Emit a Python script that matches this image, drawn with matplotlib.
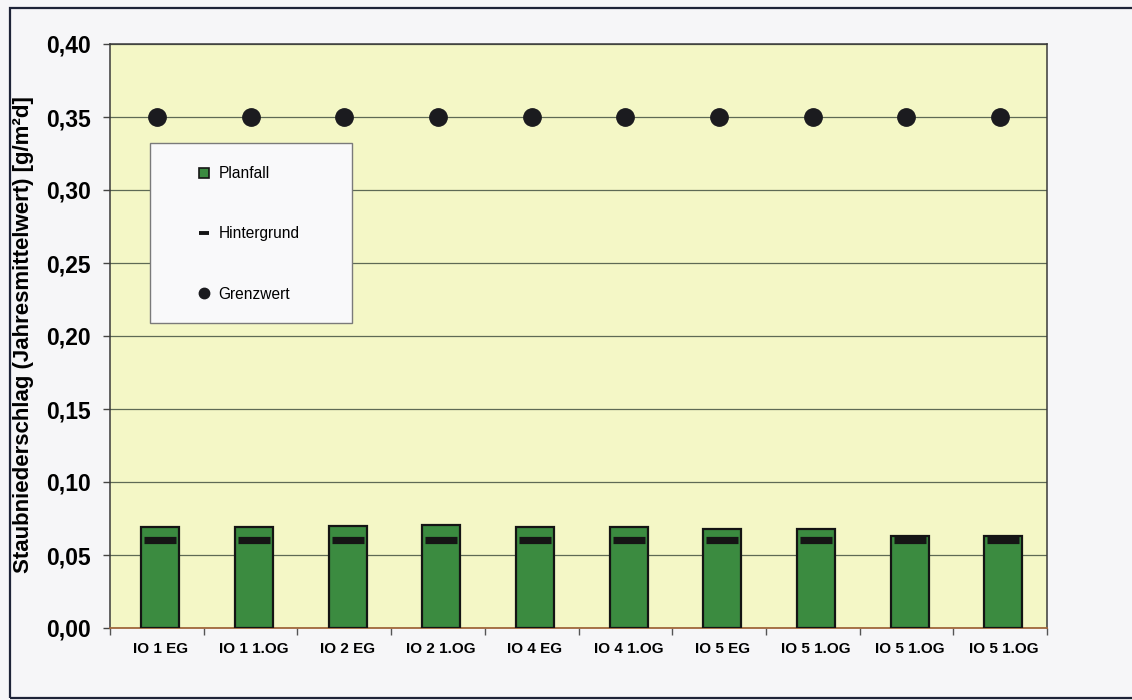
import matplotlib
matplotlib.use("Agg")
import matplotlib.pyplot as plt
from matplotlib.lines import Line2D
from matplotlib.patches import Rectangle
from matplotlib.ticker import FixedLocator, FuncFormatter
import numpy as np

# Immissionsorte
categories = ["IO 1 EG", "IO 1 1.OG", "IO 2 EG", "IO 2 1.OG", "IO 4 EG",
              "IO 4 1.OG", "IO 5 EG", "IO 5 1.OG", "IO 5 1.OG", "IO 5 1.OG"]
# Staubniederschlag [g/(m²d)]
planfall = [0.069, 0.069, 0.070, 0.0705, 0.069, 0.069, 0.068, 0.068, 0.063, 0.063]
hintergrund = [0.06, 0.06, 0.06, 0.06, 0.06, 0.06, 0.06, 0.06, 0.06, 0.06]
grenzwert = [0.35, 0.35, 0.35, 0.35, 0.35, 0.35, 0.35, 0.35, 0.35, 0.35]
y_ticks = [0.00, 0.05, 0.10, 0.15, 0.20, 0.25, 0.30, 0.35, 0.40]

plt.rcParams["font.family"] = ["Liberation Sans", "DejaVu Sans"]

W, H = 1132, 700
fig = plt.figure(figsize=(W / 100, H / 100), dpi=100)
fig.patch.set_facecolor("#f6f6f8")

# outer chart frame
fig.patches.append(Rectangle((10 / W, 2 / H), 1.2, 1 - 10 / H,
                             transform=fig.transFigure, fill=False,
                             edgecolor="#1e2438", linewidth=1.6, zorder=0))

L, R, T, B = 110, 1047, 44, 628
ax = fig.add_axes([L / W, 1 - B / H, (R - L) / W, (B - T) / H])
ax.set_facecolor("#f4f7c6")

x = np.arange(len(categories))
shift = 0.035
green = "#3b8b40"

ax.bar(x + shift, planfall, width=0.405, color=green, edgecolor="#141414",
       linewidth=1.6, zorder=3)
ax.plot(x + shift, hintergrund, linestyle="none", marker="_", markersize=23,
        markeredgewidth=5.2, color="#151515", zorder=4)
ax.plot(x, grenzwert, linestyle="none", marker="o", markersize=12.5,
        color="#1b1b1f", zorder=5)

ax.set_xlim(-0.5, len(categories) - 0.5)
ax.set_ylim(0, 0.40)

ax.yaxis.set_major_locator(FixedLocator(y_ticks))
ax.yaxis.set_major_formatter(FuncFormatter(lambda v, p: f"{v:.2f}".replace(".", ",")))
ax.grid(axis="y", color="#5e6a55", linewidth=0.9, zorder=1)
ax.set_axisbelow(True)

ax.set_xticks(x + shift)
ax.set_xticklabels(categories, fontsize=11, fontweight="bold")
ax.set_xticks(np.arange(len(categories) + 1) - 0.5, minor=True)
ax.tick_params(axis="x", which="major", length=0, pad=10)
ax.tick_params(axis="x", which="minor", length=5, width=1, color="#555555")
ax.tick_params(axis="y", length=5, width=1, color="#444444", pad=9)
for lab in ax.get_yticklabels():
    lab.set_fontsize(16.5)
    lab.set_fontweight("bold")

for side in ["left", "top", "right"]:
    ax.spines[side].set_color("#3a3a3a")
    ax.spines[side].set_linewidth(1.1)
ax.spines["bottom"].set_color("#a0683c")
ax.spines["bottom"].set_linewidth(1.3)

ax.set_ylabel("Staubniederschlag (Jahresmittelwert) [g/m²d]",
              fontsize=16, fontweight="bold")
ax.yaxis.set_label_coords(-0.081, 0.503)

# legend box
lx0, lx1, ly0, ly1 = 150, 352, 143, 323
ax.add_patch(Rectangle(((lx0 - L) / (R - L), (B - ly1) / (B - T)),
                       (lx1 - lx0) / (R - L), (ly1 - ly0) / (B - T),
                       transform=ax.transAxes, facecolor="#f9f9fa",
                       edgecolor="#7a7a7a", linewidth=1.0, zorder=6))

handles = [
    Line2D([], [], linestyle="none", marker="s", markersize=6.5,
           markerfacecolor=green, markeredgecolor="#151515", markeredgewidth=1.2),
    Line2D([], [], linestyle="none", marker="_", markersize=7,
           markeredgewidth=2.8, color="#151515"),
    Line2D([], [], linestyle="none", marker="o", markersize=7.5,
           color="#1b1b1f"),
]
leg = ax.legend(handles, ["Planfall", "Hintergrund", "Grenzwert"],
                loc="upper left",
                bbox_to_anchor=((196 - L) / (R - L), (B - 166) / (B - T)),
                frameon=False, fontsize=11.2, borderpad=0, borderaxespad=0,
                handlelength=1.0, handletextpad=0.45, labelspacing=2.92)
leg.set_zorder(7)

fig.savefig("out.png", dpi=100, facecolor=fig.get_facecolor())
